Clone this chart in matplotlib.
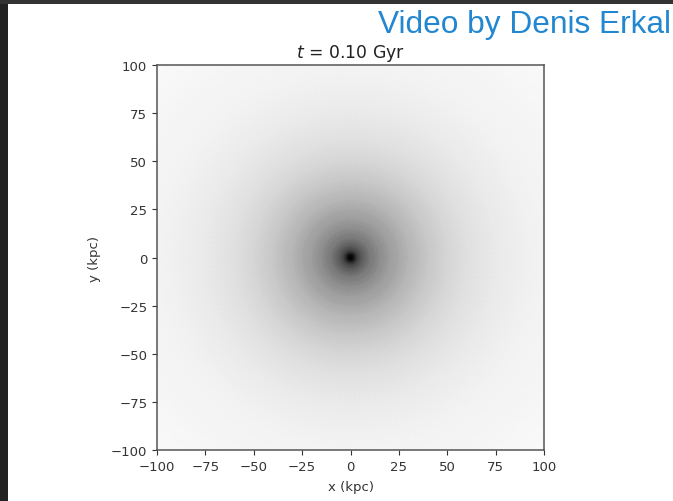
import matplotlib
matplotlib.use('Agg')
import matplotlib.pyplot as plt
from matplotlib.patches import Rectangle
import numpy as np

# radial surface density, as grey level (0 black, 255 white)
radius_kpc = [0, 1, 2, 3, 4, 6, 8, 10, 15, 20, 30, 40, 50, 60, 75, 90, 100, 120, 142]
grey_level = [0, 12, 35, 58, 75, 95, 108, 122, 142, 158, 182, 200, 214, 224, 234, 240, 243, 246, 249]
angles = np.linspace(0, 2 * np.pi, 181)
ticks = [-100, -75, -50, -25, 0, 25, 50, 75, 100]

W, H = 673, 502
fig = plt.figure(figsize=(W / 100, H / 100), dpi=100)
fig.patch.set_facecolor('white')

# dark page strips around the screenshot
fig.add_artist(Rectangle((0, 0), 8 / W, 1, transform=fig.transFigure, color='#222222', lw=0))
fig.add_artist(Rectangle((0, 1 - 5 / H), 1, 5 / H, transform=fig.transFigure, color='#333333', lw=0))

ax = fig.add_axes([157 / W, 1 - 451 / H, 387 / W, 385 / H])
rr, tt = np.meshgrid(radius_kpc, angles)
xx = rr * np.cos(tt)
yy = rr * np.sin(tt)
cc = np.tile(grey_level, (len(angles), 1))
ax.pcolormesh(xx, yy, cc, cmap='gray', vmin=0, vmax=255, shading='gouraud', rasterized=True)

ax.set_xlim(-100, 100)
ax.set_ylim(-100, 100)
ax.set_xticks(ticks)
ax.set_yticks(ticks)
ax.tick_params(labelsize=9.5, colors='#333333', width=0.8, length=3.5)
for s in ax.spines.values():
    s.set_color('#555555')
    s.set_linewidth(1.1)
ax.set_xlabel('x (kpc)', fontsize=9.5, color='#333333', labelpad=5)
ax.set_ylabel('y (kpc)', fontsize=9.5, color='#333333', labelpad=7)
ax.set_title('$t$ = 0.10 Gyr', fontsize=12.4, color='#222222', pad=6)

fig.text(671 / W, 1 - 25.5 / H, 'Video by Denis Erkal', family='Liberation Sans', fontsize=22.8,
         color='#2287D0', ha='right', va='center')

fig.savefig('out.png', dpi=100)
